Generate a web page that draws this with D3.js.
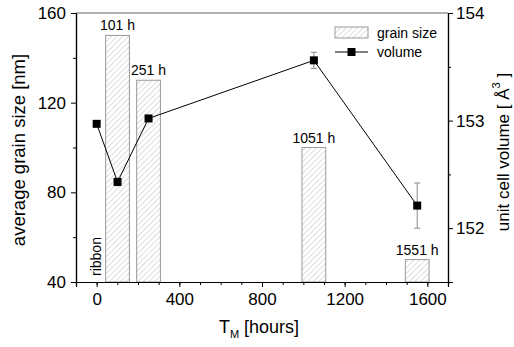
<!DOCTYPE html>
<html>
<head>
<meta charset="utf-8">
<script src="https://cdn.jsdelivr.net/npm/d3@7"></script>
<style>
  body { margin: 0; background: #fff; }
  svg { font-family: "Liberation Sans", Arial, sans-serif; }
</style>
</head>
<body>
<div class="container"></div>
<script>
// grain size bars
const barHours = [101, 251, 1051, 1551];
const barSize = [150, 130, 100, 50];
const barLabels = ["101 h", "251 h", "1051 h", "1551 h"];
const barWidth = 115;

// unit cell volume
const volHours = [0, 101, 251, 1051, 1551];
const volValues = [152.97, 152.43, 153.02, 153.56, 152.21];
const volErr = [0, 0.035, 0, 0.075, 0.21];

const xTicks = [0, 400, 800, 1200, 1600];
const yLeftTicks = [40, 80, 120, 160];
const yRightTicks = [152, 153, 154];

const w = 514;
const h = 347;
const m = {left: 76, right: 66, top: 13, bottom: 65};

const svg = d3.select(".container")
              .append("svg")
              .attr("width", w)
              .attr("height", h);

const xScale = d3.scaleLinear()
                 .domain([-100, 1700])
                 .range([m.left, w - m.right]);
const yLeft = d3.scaleLinear()
                .domain([40, 160])
                .range([h - m.bottom, m.top]);
const yRight = d3.scaleLinear()
                 .domain([151.5, 154])
                 .range([h - m.bottom, m.top]);

// hatch pattern
const defs = svg.append("defs");
const pat = defs.append("pattern")
                .attr("id", "hatch")
                .attr("patternUnits", "userSpaceOnUse")
                .attr("width", 4)
                .attr("height", 4)
                .attr("patternTransform", "rotate(45)");
pat.append("line")
   .attr("x1", 0).attr("y1", 0)
   .attr("x2", 0).attr("y2", 4)
   .attr("stroke", "#aaa")
   .attr("stroke-width", 0.8);

// bars
svg.selectAll("rect.bar")
   .data(barHours)
   .enter()
   .append("rect")
   .attr("class", "bar")
   .attr("x", (d)=> xScale(d - barWidth / 2))
   .attr("width", (d)=> xScale(d + barWidth / 2) - xScale(d - barWidth / 2))
   .attr("y", (d, i)=> yLeft(barSize[i]))
   .attr("height", (d, i)=> yLeft(40) - yLeft(barSize[i]))
   .attr("fill", "url(#hatch)")
   .attr("stroke", "#999")
   .attr("stroke-width", 1);

svg.selectAll("text.barlabel")
   .data(barHours)
   .enter()
   .append("text")
   .attr("class", "barlabel")
   .attr("x", (d)=> xScale(d))
   .attr("y", (d, i)=> yLeft(barSize[i]) - 5)
   .attr("text-anchor", "middle")
   .attr("font-size", 14)
   .text((d, i)=> barLabels[i]);

svg.append("text")
   .attr("transform", "translate(" + (xScale(0) + 4) + "," + (yLeft(40) - 6) + ") rotate(-90)")
   .attr("font-size", 14)
   .text("ribbon");

// axes
const xAxis = d3.axisBottom(xScale)
                .tickValues(xTicks)
                .tickFormat(d3.format("d"))
                .tickSize(5)
                .tickPadding(6);
const xMinor = d3.axisBottom(xScale)
                 .tickValues(d3.range(-100, 1701, 100))
                 .tickSize(3)
                 .tickFormat("");
const yLAxis = d3.axisLeft(yLeft)
                 .tickValues(yLeftTicks)
                 .tickFormat(d3.format("d"))
                 .tickSize(5)
                 .tickPadding(5);
const yLMinor = d3.axisLeft(yLeft)
                  .tickValues([60, 100, 140])
                  .tickSize(3)
                  .tickFormat("");
const yRAxis = d3.axisRight(yRight)
                 .tickValues(yRightTicks)
                 .tickFormat(d3.format("d"))
                 .tickSize(5)
                 .tickPadding(3);
const yRMinor = d3.axisRight(yRight)
                  .tickValues([151.5, 152.5, 153.5])
                  .tickSize(3)
                  .tickFormat("");

const styleAxis = (g)=>{
    g.attr("font-family", null);
    g.selectAll("text").attr("font-size", 17).attr("fill", "#000");
    g.select(".domain").attr("stroke-width", 1.2);
}

svg.append("g").attr("transform", "translate(0," + (h - m.bottom) + ")").call(xMinor).call(styleAxis);
svg.append("g").attr("transform", "translate(0," + (h - m.bottom) + ")").call(xAxis).call(styleAxis);
svg.append("g").attr("transform", "translate(" + m.left + ",0)").call(yLMinor).call(styleAxis);
svg.append("g").attr("transform", "translate(" + m.left + ",0)").call(yLAxis).call(styleAxis);
svg.append("g").attr("transform", "translate(" + (w - m.right) + ",0)").call(yRMinor).call(styleAxis);
svg.append("g").attr("transform", "translate(" + (w - m.right) + ",0)").call(yRAxis).call(styleAxis);

// top frame line
svg.append("line")
   .attr("x1", m.left).attr("x2", w - m.right)
   .attr("y1", m.top).attr("y2", m.top)
   .attr("stroke", "#666")
   .attr("stroke-width", 1.2);

// volume line
const line = d3.line()
               .x((d, i)=> xScale(volHours[i]))
               .y((d)=> yRight(d));
svg.append("path")
   .datum(volValues)
   .attr("d", line)
   .attr("fill", "none")
   .attr("stroke", "#000")
   .attr("stroke-width", 1);

// error bars
const errData = volValues.map((v, i)=> ({x: volHours[i], v: v, e: volErr[i]}))
                         .filter((d)=> d.e > 0);
const errG = svg.selectAll("g.err")
                .data(errData)
                .enter()
                .append("g")
                .attr("class", "err")
                .attr("stroke", "#888")
                .attr("stroke-width", 1);
errG.append("line")
    .attr("x1", (d)=> xScale(d.x))
    .attr("x2", (d)=> xScale(d.x))
    .attr("y1", (d)=> yRight(d.v + d.e))
    .attr("y2", (d)=> yRight(d.v - d.e));
[1, -1].forEach((s)=>{
    errG.append("line")
        .attr("x1", (d)=> xScale(d.x) - 3)
        .attr("x2", (d)=> xScale(d.x) + 3)
        .attr("y1", (d)=> yRight(d.v + s * d.e))
        .attr("y2", (d)=> yRight(d.v + s * d.e));
});

// markers
svg.selectAll("rect.marker")
   .data(volValues)
   .enter()
   .append("rect")
   .attr("class", "marker")
   .attr("x", (d, i)=> xScale(volHours[i]) - 4)
   .attr("y", (d)=> yRight(d) - 4)
   .attr("width", 8)
   .attr("height", 8)
   .attr("fill", "#000");

// legend
const lg = svg.append("g").attr("transform", "translate(335,27)");
lg.append("rect")
  .attr("x", 0).attr("y", 0)
  .attr("width", 33).attr("height", 11)
  .attr("fill", "url(#hatch)")
  .attr("stroke", "#999");
lg.append("text")
  .attr("x", 42).attr("y", 10.5)
  .attr("font-size", 14)
  .text("grain size");
lg.append("line")
  .attr("x1", 0).attr("x2", 33)
  .attr("y1", 25).attr("y2", 25)
  .attr("stroke", "#000");
lg.append("rect")
  .attr("x", 12.5).attr("y", 21)
  .attr("width", 8).attr("height", 8)
  .attr("fill", "#000");
lg.append("text")
  .attr("x", 42).attr("y", 29.5)
  .attr("font-size", 14)
  .text("volume");

// axis titles
svg.append("text")
   .attr("transform", "translate(25,150) rotate(-90)")
   .attr("text-anchor", "middle")
   .attr("font-size", 18.5)
   .text("average grain size [nm]");

const rt = svg.append("text")
   .attr("transform", "translate(509,152) rotate(-90)")
   .attr("text-anchor", "middle")
   .attr("font-size", 17);
rt.append("tspan").text("unit cell volume [ Å");
rt.append("tspan").attr("font-size", 11).attr("dy", -9).text("3");
rt.append("tspan").attr("dy", 9).text(" ]");

const xt = svg.append("text")
   .attr("x", 259)
   .attr("y", 333)
   .attr("text-anchor", "middle")
   .attr("font-size", 18);
xt.append("tspan").text("T");
xt.append("tspan").attr("font-size", 11).attr("dy", 5).text("M");
xt.append("tspan").attr("dy", -5).text(" [hours]");
</script>
</body>
</html>
